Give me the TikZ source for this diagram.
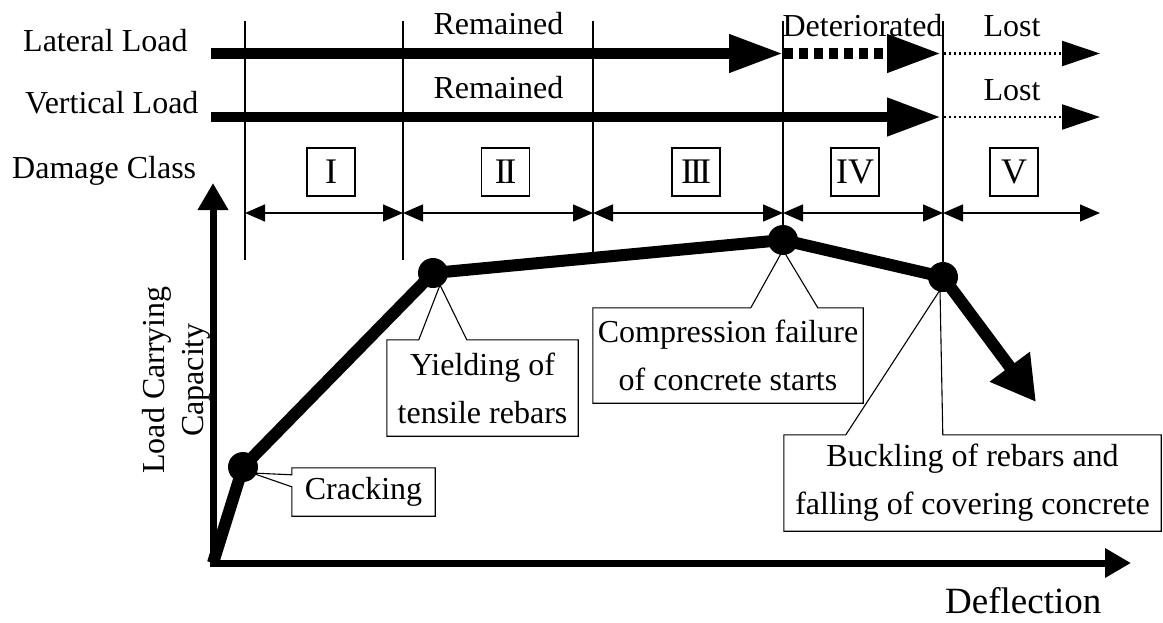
\documentclass[tikz,border=0pt]{standalone}
\usepackage{fontspec}
\setmainfont{Liberation Serif}
\usetikzlibrary{arrows.meta,calc}
\begin{document}
\begin{tikzpicture}[x=1pt,y=-1pt,
  lbl/.style={inner sep=0pt, font=\fontsize{32}{38}\selectfont},
  gridline/.style={line width=1.3pt},
  loadarrow/.style={line width=10.5pt, -{Triangle[length=54pt,width=36pt]}},
  lostarrow/.style={line width=2.2pt, dash pattern=on 2pt off 3pt, -{Triangle[length=38pt,width=25pt]}},
  dimarrow/.style={line width=1.5pt, {Triangle[length=20pt,width=17pt]}-{Triangle[length=20pt,width=17pt]}},
  classbox/.style={draw, line width=1.3pt, minimum width=48pt, minimum height=48pt, inner sep=0pt, font=\fontsize{36}{36}\selectfont},
  dot/.style={circle, fill, minimum size=30pt, inner sep=0pt},
  callout/.style={inner sep=0pt, align=center, font=\fontsize{32}{48}\selectfont},
  calloutline/.style={line width=1.1pt, line join=miter},
  curve/.style={line width=12pt, line join=round},
  axis/.style={line width=7pt, line join=miter}
]
\useasboundingbox (0,0) rectangle (1163,622);

% row labels
\node[lbl, anchor=base west] (ll) at (23,51) {Lateral Load};
\node[lbl, anchor=base west] (vl) at (25,113) {Vertical Load};
\node[lbl, anchor=base west] (dc) at (12,178) {Damage Class};

% state labels
\node[lbl, anchor=base] (rem1) at (498.5,34) {Remained};
\node[lbl, anchor=base] (rem2) at (498.5,98) {Remained};
\node[lbl, anchor=base] (det) at (862.5,36) {Deteriorated};
\node[lbl, anchor=base] (lost1) at (1012,36) {Lost};
\node[lbl, anchor=base] (lost2) at (1012,100) {Lost};

% grid lines
\coordinate (t1) at (245,21);  \coordinate (b1) at (245,260);
\coordinate (t2) at (403,21);  \coordinate (b2) at (403,260);
\coordinate (t3) at (593,21);  \coordinate (b3) at (593,258);
\coordinate (t4) at (783,21);  \coordinate (b4) at (783,240);
\coordinate (t5) at (943,21);  \coordinate (b5) at (943,277);
\foreach \i in {1,...,5} {\draw[gridline] (t\i) -- (b\i);}

% load arrows
\coordinate (la0) at (211,53.5);
\coordinate (la1) at (783,53.5);
\coordinate (la1b) at (784,53.5);
\coordinate (la2) at (941,53.5);
\coordinate (la2b) at (944,53.5);
\coordinate (la3) at (1100,53.5);
\draw[loadarrow] (la0) -- (la1);
\draw[loadarrow, dash pattern=on 9pt off 6pt] (la1b) -- (la2);
\draw[lostarrow] (la2b) -- (la3);

\coordinate (va0) at (211,117);
\coordinate (va1) at (941,117);
\coordinate (va1b) at (944,117);
\coordinate (va2) at (1100,117);
\draw[loadarrow] (va0) -- (va1);
\draw[lostarrow] (va1b) -- (va2);

% damage classes
\node[classbox] (c1) at (331,172) {I};
\node[classbox] (c2) at (505.5,172) {I\kern-2.5pt I};
\node[classbox] (c3) at (696,172) {I\kern-3pt I\kern-3pt I};
\node[classbox] (c4) at (855,172) {IV};
\node[classbox] (c5) at (1014,172) {V};

\coordinate (d0) at (245,213);
\coordinate (d1) at (403,213);
\coordinate (d2) at (593,213);
\coordinate (d3) at (783,213);
\coordinate (d4) at (943,213);
\coordinate (d5) at (1100,213);
\draw[dimarrow] (d0) -- (d1);
\draw[dimarrow] (d1) -- (d2);
\draw[dimarrow] (d2) -- (d3);
\draw[dimarrow] (d3) -- (d4);
\draw[dimarrow] (d4) -- (d5);

% axes
\coordinate (O) at (213,563);
\coordinate (ytip) at (213,183);
\coordinate (xtip) at (1131,563);
\draw[axis, {Triangle[length=27pt,width=29pt]}-{Triangle[length=26pt,width=28pt]}] (ytip) -- (O) -- (xtip);
\node[rotate=90, align=center, inner sep=0pt, font=\fontsize{32}{39}\selectfont] (ylab) at (176,380) {Load Carrying\\Capacity};
\node[inner sep=0pt, anchor=base west, font=\fontsize{37}{40}\selectfont] (xlab) at (945,613) {Deflection};

% curve
\node[dot] (crk) at (243,467) {};
\node[dot] (yld) at (433,273) {};
\node[dot] (cmp) at (783,240) {};
\node[dot] (bkl) at (943,277) {};
\coordinate (cend) at (1036,402);
\draw[curve, -{Triangle[length=44pt,width=47pt]}] (O) -- (crk.center) -- (yld.center) -- (cmp.center) -- (bkl.center) -- (cend);

% callouts
\node[callout, minimum width=143pt, minimum height=48pt] (kbox) at (363.5,492) {Cracking};
\coordinate (ktip) at (252,473);
\draw[calloutline] (kbox.north west) -- ($(kbox.north west)+(0,7)$) -- (ktip) -- ($(kbox.north west)+(0,19)$) -- (kbox.south west) -- (kbox.south east) -- (kbox.north east) -- cycle;

\node[callout, minimum width=191pt, minimum height=96pt] (ybox) at (482.5,388) {Yielding of\\tensile rebars};
\coordinate (ytp) at (440,285);
\draw[calloutline] (ybox.north west) -- ($(ybox.north west)+(32,0)$) -- (ytp) -- ($(ybox.north west)+(80,0)$) -- (ybox.north east) -- (ybox.south east) -- (ybox.south west) -- cycle;

\node[callout, minimum width=270pt, minimum height=95pt] (cbox) at (728,355.5) {Compression failure\\of concrete starts};
\coordinate (ctp) at (783,250);
\draw[calloutline] (cbox.north west) -- ($(cbox.north west)+(158,0)$) -- (ctp) -- ($(cbox.north west)+(225,0)$) -- (cbox.north east) -- (cbox.south east) -- (cbox.south west) -- cycle;

\node[callout, minimum width=377pt, minimum height=96pt] (bbox) at (972.5,483) {Buckling of rebars and\\falling of covering concrete};
\coordinate (btp) at (940,290);
\draw[calloutline] (bbox.north west) -- ($(bbox.north west)+(62,0)$) -- (btp) -- ($(bbox.north west)+(159,0)$) -- (bbox.north east) -- (bbox.south east) -- (bbox.south west) -- cycle;
\end{tikzpicture}
\end{document}
